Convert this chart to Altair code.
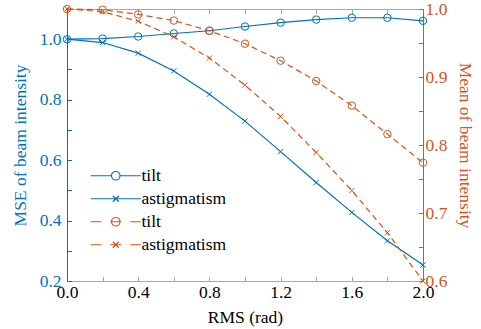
import altair as alt
import pandas as pd

# ---- data ----
rms = [0.0, 0.2, 0.4, 0.6, 0.8, 1.0, 1.2, 1.4, 1.6, 1.8, 2.0]
mse_tilt = [1.000, 1.002, 1.009, 1.019, 1.028, 1.042, 1.055, 1.065, 1.071, 1.071, 1.061]
mse_astig = [1.000, 0.989, 0.954, 0.895, 0.818, 0.729, 0.628, 0.526, 0.427, 0.333, 0.253]
mean_tilt = [1.000, 0.999, 0.992, 0.983, 0.968, 0.949, 0.924, 0.894, 0.858, 0.816, 0.774]
mean_astig = [1.000, 0.996, 0.982, 0.959, 0.928, 0.888, 0.842, 0.789, 0.733, 0.671, 0.600]

x_labels = [0.0, 0.4, 0.8, 1.2, 1.6, 2.0]
x_ticks = [0.0, 0.2, 0.4, 0.6, 0.8, 1.0, 1.2, 1.4, 1.6, 1.8, 2.0]
left_labels = [0.2, 0.4, 0.6, 0.8, 1.0]
left_ticks = [0.2, 0.3, 0.4, 0.5, 0.6, 0.7, 0.8, 0.9, 1.0]
right_labels = [0.6, 0.7, 0.8, 0.9, 1.0]
right_ticks = [0.6, 0.65, 0.7, 0.75, 0.8, 0.85, 0.9, 0.95, 1.0]

legend_entries = ["a|tilt", "b|astigmatism", "c|tilt", "d|astigmatism"]

BLUE = "#0072BD"
ORANGE = "#D95319"
GRAY = "#a8a8a8"
FONT = "'Liberation Serif', 'Times New Roman', Times, serif"
FS = 17.5
W, H = 356, 272

blue_df = pd.DataFrame({
    "rms": rms * 2,
    "value": mse_tilt + mse_astig,
    "series": ["tilt"] * len(rms) + ["astigmatism"] * len(rms),
})
orange_df = pd.DataFrame({
    "rms": rms * 2,
    "value": mean_tilt + mean_astig,
    "series": ["tilt"] * len(rms) + ["astigmatism"] * len(rms),
})
legend_df = pd.DataFrame({"rms": [0.0] * 4, "value": [1.0] * 4, "entry": legend_entries})

xscale = alt.Scale(domain=[0, 2], nice=False, zero=False)
yl_scale = alt.Scale(domain=[0.2, 1.1], nice=False, zero=False)
yr_scale = alt.Scale(domain=[0.6, 1.0], nice=False, zero=False)

NOAX = None

# axes
x_main = alt.Axis(orient="bottom", values=x_labels, format=".1f", title="RMS (rad)",
                  ticks=False, tickSize=0, labelPadding=2, titlePadding=8, labelFlush=False,
                  domainColor=GRAY, labelColor="black", titleColor="black", grid=False)
x_in_bottom = alt.Axis(orient="top", offset=-H, values=x_ticks, labels=False, domain=False,
                       title=None, tickSize=4.5, tickColor=GRAY, grid=False)
x_in_top = alt.Axis(orient="bottom", offset=-H, values=x_ticks, labels=False, domain=True,
                    domainColor=GRAY, title=None, tickSize=4.5, tickColor=GRAY, grid=False)
yl_main = alt.Axis(orient="left", values=left_labels, format=".1f", title="MSE of beam intensity",
                   ticks=False, tickSize=0, labelPadding=6, titlePadding=10, labelFlush=False,
                   domainColor=BLUE, labelColor=BLUE, titleColor=BLUE, grid=False)
yl_in = alt.Axis(orient="right", offset=-W, values=left_ticks, labels=False, domain=False,
                 title=None, tickSize=4.5, tickColor=BLUE, grid=False)
yr_main = alt.Axis(orient="right", values=right_labels, format=".1f", title="Mean of beam intensity",
                   ticks=False, tickSize=0, labelPadding=2, titlePadding=9, labelFlush=False,
                   domainColor=ORANGE, labelColor=ORANGE, titleColor=ORANGE, grid=False)
yr_in = alt.Axis(orient="left", offset=-W, values=right_ticks, labels=False, domain=False,
                 title=None, tickSize=4.5, tickColor=ORANGE, grid=False)

# ---- blue (left axis) ----
blue_base = alt.Chart(blue_df)
blue_lines = blue_base.mark_line(color=BLUE, strokeWidth=1.2).encode(
    x=alt.X("rms:Q", scale=xscale, axis=x_main),
    y=alt.Y("value:Q", scale=yl_scale, axis=yl_main),
    detail="series:N",
)
blue_tilt_pts = blue_base.transform_filter(alt.datum.series == "tilt").mark_point(
    shape="circle", filled=False, size=56, stroke=BLUE, strokeWidth=1, opacity=1
).encode(
    x=alt.X("rms:Q", scale=xscale, axis=x_in_bottom),
    y=alt.Y("value:Q", scale=yl_scale, axis=yl_in),
)
blue_astig_pts = blue_base.transform_filter(alt.datum.series == "astigmatism").mark_point(
    shape="M-1,-1L1,1M-1,1L1,-1", filled=False, size=28, stroke=BLUE, strokeWidth=1, opacity=1
).encode(
    x=alt.X("rms:Q", scale=xscale, axis=x_in_top),
    y=alt.Y("value:Q", scale=yl_scale, axis=NOAX),
)

circ = "M-0.85,0A0.85,0.85 0 1,0 0.85,0A0.85,0.85 0 1,0 -0.85,0"
xmk = "M-0.6,-0.6L0.6,0.6M-0.6,0.6L0.6,-0.6"
dash3 = "M-5,0H-2.9M-1.1,0H1.1M2.9,0H5"
legend_paths = [
    "M-5,0H-0.85M0.85,0H5" + circ,
    "M-5,0H5" + xmk,
    dash3 + circ,
    dash3 + xmk,
]
leg = alt.Legend(orient="none", legendX=40, legendY=158, title=None,
                 labelExpr="split(datum.label, '|')[1]", labelFont=FONT, labelFontSize=FS,
                 labelColor="black", symbolSize=100, symbolStrokeWidth=1.2, symbolOpacity=1,
                 labelOffset=17, rowPadding=4, padding=0)
legend_layer = alt.Chart(legend_df).mark_point(filled=False, opacity=0).encode(
    x=alt.X("rms:Q", scale=xscale, axis=NOAX),
    y=alt.Y("value:Q", scale=yl_scale, axis=NOAX),
    shape=alt.Shape("entry:N", scale=alt.Scale(domain=legend_entries, range=legend_paths), legend=leg),
    stroke=alt.Stroke("entry:N", scale=alt.Scale(domain=legend_entries, range=[BLUE, BLUE, ORANGE, ORANGE]), legend=leg),
)

blue_layer = alt.layer(blue_lines, blue_tilt_pts, blue_astig_pts, legend_layer)

# ---- orange (right axis) ----
orange_base = alt.Chart(orange_df)
orange_lines = orange_base.mark_line(color=ORANGE, strokeWidth=1.2, strokeDash=[6, 4]).encode(
    x=alt.X("rms:Q", scale=xscale, axis=NOAX),
    y=alt.Y("value:Q", scale=yr_scale, axis=yr_main),
    detail="series:N",
)
orange_tilt_pts = orange_base.transform_filter(alt.datum.series == "tilt").mark_point(
    shape="circle", filled=False, size=56, stroke=ORANGE, strokeWidth=1, opacity=1
).encode(
    x=alt.X("rms:Q", scale=xscale, axis=NOAX),
    y=alt.Y("value:Q", scale=yr_scale, axis=yr_in),
)
orange_astig_pts = orange_base.transform_filter(alt.datum.series == "astigmatism").mark_point(
    shape="M-1,-1L1,1M-1,1L1,-1", filled=False, size=28, stroke=ORANGE, strokeWidth=1, opacity=1
).encode(
    x=alt.X("rms:Q", scale=xscale, axis=NOAX),
    y=alt.Y("value:Q", scale=yr_scale, axis=NOAX),
)
orange_layer = alt.layer(orange_lines, orange_tilt_pts, orange_astig_pts)

chart = alt.layer(blue_layer, orange_layer).resolve_scale(y="independent").properties(
    width=W, height=H,
    autosize=alt.AutoSizeParams(type="none"),
    padding={"left": 67, "top": 9, "right": 58, "bottom": 48},
    background="white",
).configure_view(stroke=None).configure_axis(
    labelFont=FONT, titleFont=FONT, labelFontSize=FS, titleFontSize=FS,
    titleFontWeight="normal", domainWidth=1, tickWidth=1,
)

chart.save("out.html", embed_options={"renderer": "svg", "actions": False})
